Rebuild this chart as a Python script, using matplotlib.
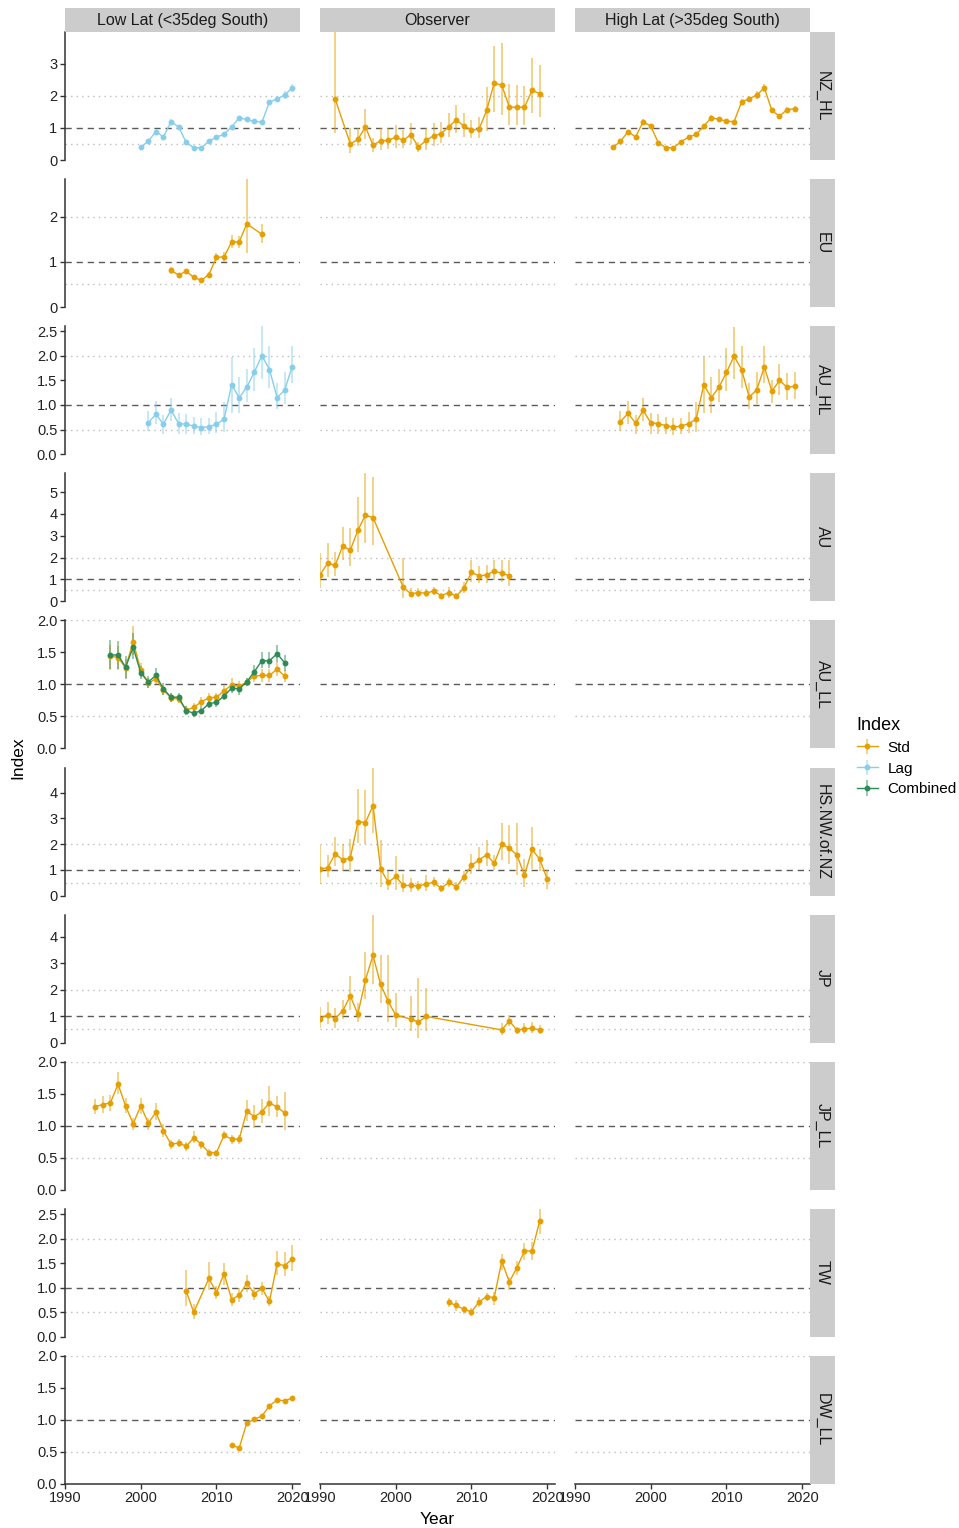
import numpy as np
import matplotlib
matplotlib.use("Agg")
import matplotlib.pyplot as plt

plt.rcParams['font.family'] = ['Liberation Sans', 'DejaVu Sans']

# ---------------- data ----------------
rows = ["NZ_HL", "EU", "AU_HL", "AU", "AU_LL", "HS.NW.of.NZ", "JP", "JP_LL", "TW", "DW_LL"]
cols = ["Low Lat (<35deg South)", "Observer", "High Lat (>35deg South)"]
index_names = ["Std", "Lag", "Combined"]
index_colors = {"Std": "#E69F00", "Lag": "#87CEEB", "Combined": "#2E8B57"}

# NZ_HL
nzhl_low_yr = [2000, 2001, 2002, 2003, 2004, 2005, 2006, 2007, 2008, 2009, 2010,
               2011, 2012, 2013, 2014, 2015, 2016, 2017, 2018, 2019, 2020]
nzhl_low_val = [0.39, 0.59, 0.88, 0.72, 1.19, 1.03, 0.55, 0.38, 0.38, 0.58, 0.71,
                0.80, 1.03, 1.31, 1.26, 1.20, 1.18, 1.80, 1.90, 2.02, 2.24]
nzhl_low_lo = [0.35, 0.54, 0.82, 0.67, 1.12, 0.97, 0.51, 0.35, 0.35, 0.54, 0.66,
               0.75, 0.97, 1.24, 1.20, 1.14, 1.12, 1.72, 1.80, 1.90, 2.12]
nzhl_low_hi = [0.43, 0.64, 0.94, 0.77, 1.26, 1.09, 0.59, 0.41, 0.41, 0.62, 0.76,
               0.85, 1.09, 1.38, 1.32, 1.26, 1.24, 1.88, 2.00, 2.14, 2.36]

nzhl_obs_yr = [1992, 1994, 1995, 1996, 1997, 1998, 1999, 2000, 2001, 2002, 2003, 2004, 2005, 2006,
               2007, 2008, 2009, 2010, 2011, 2012, 2013, 2014, 2015, 2016, 2017, 2018, 2019]
nzhl_obs_val = [1.90, 0.50, 0.64, 1.03, 0.46, 0.60, 0.61, 0.71, 0.61, 0.79, 0.40, 0.61, 0.75, 0.82,
                1.04, 1.24, 1.06, 0.93, 0.96, 1.54, 2.39, 2.33, 1.64, 1.64, 1.64, 2.17, 2.06]
nzhl_obs_lo = [0.83, 0.23, 0.42, 0.64, 0.26, 0.31, 0.35, 0.37, 0.38, 0.50, 0.26, 0.30, 0.42, 0.52,
               0.73, 0.83, 0.73, 0.68, 0.68, 0.91, 1.50, 1.40, 1.09, 1.09, 1.09, 1.47, 1.33]
nzhl_obs_hi = [3.98, 0.99, 0.99, 1.58, 0.67, 0.99, 0.99, 1.09, 0.92, 1.14, 0.57, 0.98, 1.14, 1.19,
               1.45, 1.70, 1.47, 1.25, 1.35, 2.28, 3.55, 3.63, 2.37, 2.34, 2.30, 3.16, 2.94]

nzhl_high_yr = [1995, 1996, 1997, 1998, 1999, 2000, 2001, 2002, 2003, 2004, 2005, 2006, 2007,
                2008, 2009, 2010, 2011, 2012, 2013, 2014, 2015, 2016, 2017, 2018, 2019]
nzhl_high_val = [0.39, 0.58, 0.88, 0.72, 1.19, 1.05, 0.54, 0.38, 0.38, 0.57, 0.71, 0.80, 1.05,
                 1.32, 1.26, 1.21, 1.19, 1.81, 1.90, 2.02, 2.24, 1.54, 1.36, 1.57, 1.59]
nzhl_high_lo = [0.35, 0.54, 0.82, 0.67, 1.12, 0.98, 0.50, 0.35, 0.35, 0.53, 0.66, 0.75, 0.98,
                1.25, 1.20, 1.15, 1.13, 1.73, 1.80, 1.90, 2.12, 1.46, 1.30, 1.48, 1.50]
nzhl_high_hi = [0.43, 0.63, 0.94, 0.77, 1.26, 1.11, 0.58, 0.41, 0.41, 0.61, 0.76, 0.85, 1.11,
                1.39, 1.32, 1.27, 1.25, 1.89, 2.00, 2.14, 2.36, 1.62, 1.42, 1.66, 1.68]

# EU
eu_low_yr = [2004, 2005, 2006, 2007, 2008, 2009, 2010, 2011, 2012, 2013, 2014, 2016]
eu_low_val = [0.81, 0.71, 0.79, 0.66, 0.59, 0.72, 1.10, 1.11, 1.44, 1.44, 1.84, 1.61]
eu_low_lo = [0.74, 0.66, 0.73, 0.62, 0.55, 0.67, 1.02, 1.00, 1.31, 1.30, 1.20, 1.41]
eu_low_hi = [0.89, 0.76, 0.85, 0.70, 0.63, 0.78, 1.20, 1.22, 1.59, 1.57, 2.83, 1.83]

# AU_HL
auhl_low_yr = [2001, 2002, 2003, 2004, 2005, 2006, 2007, 2008, 2009, 2010,
               2011, 2012, 2013, 2014, 2015, 2016, 2017, 2018, 2019, 2020]
auhl_low_val = [0.64, 0.81, 0.61, 0.90, 0.62, 0.61, 0.57, 0.54, 0.56, 0.61,
                0.71, 1.41, 1.15, 1.36, 1.67, 2.00, 1.72, 1.15, 1.30, 1.78]
auhl_low_lo = [0.47, 0.61, 0.42, 0.68, 0.42, 0.42, 0.42, 0.39, 0.42, 0.43,
               0.45, 0.83, 0.84, 1.06, 1.29, 1.53, 1.35, 0.92, 1.02, 1.44]
auhl_low_hi = [0.88, 1.08, 0.79, 1.15, 0.83, 0.81, 0.76, 0.74, 0.74, 0.85,
               1.07, 1.97, 1.56, 1.73, 2.15, 2.60, 2.19, 1.45, 1.67, 2.20]

auhl_high_yr = [1996, 1997, 1998, 1999, 2000, 2001, 2002, 2003, 2004, 2005, 2006, 2007,
                2008, 2009, 2010, 2011, 2012, 2013, 2014, 2015, 2016, 2017, 2018, 2019]
auhl_high_val = [0.66, 0.83, 0.63, 0.89, 0.64, 0.62, 0.58, 0.55, 0.57, 0.62, 0.71, 1.41,
                 1.15, 1.36, 1.66, 1.99, 1.72, 1.16, 1.31, 1.77, 1.28, 1.50, 1.36, 1.38]
auhl_high_lo = [0.47, 0.61, 0.42, 0.68, 0.42, 0.42, 0.42, 0.39, 0.42, 0.43, 0.45, 0.83,
                0.84, 1.06, 1.29, 1.53, 1.35, 0.92, 1.02, 1.44, 1.05, 1.20, 1.10, 1.13]
auhl_high_hi = [0.88, 1.08, 0.79, 1.15, 0.83, 0.81, 0.76, 0.74, 0.74, 0.85, 1.07, 1.97,
                1.56, 1.73, 2.15, 2.59, 2.19, 1.45, 1.67, 2.19, 1.50, 1.83, 1.65, 1.67]

# AU
au_obs_yr = [1990, 1991, 1992, 1993, 1994, 1995, 1996, 1997, 2001, 2002, 2003, 2004,
             2005, 2006, 2007, 2008, 2009, 2010, 2011, 2012, 2013, 2014, 2015]
au_obs_val = [1.21, 1.74, 1.65, 2.53, 2.34, 3.25, 3.95, 3.83, 0.64, 0.34, 0.40, 0.37,
              0.47, 0.26, 0.40, 0.24, 0.61, 1.33, 1.16, 1.21, 1.39, 1.28, 1.18]
au_obs_lo = [0.63, 1.13, 1.16, 1.89, 1.63, 2.27, 2.69, 2.58, 0.14, 0.18, 0.21, 0.21,
             0.30, 0.17, 0.17, 0.15, 0.37, 0.90, 0.85, 0.85, 0.98, 0.87, 0.72]
au_obs_hi = [2.20, 2.66, 2.27, 3.42, 3.34, 4.79, 5.86, 5.71, 2.00, 0.63, 0.60, 0.56,
             0.67, 0.40, 0.67, 0.40, 0.90, 1.89, 1.60, 1.66, 1.89, 1.89, 1.89]

# AU_LL
aull_yr = [1996, 1997, 1998, 1999, 2000, 2001, 2002, 2003, 2004, 2005, 2006, 2007,
           2008, 2009, 2010, 2011, 2012, 2013, 2014, 2015, 2016, 2017, 2018, 2019]
aull_std_val = [1.44, 1.42, 1.26, 1.67, 1.22, 1.02, 1.09, 0.91, 0.79, 0.77, 0.60, 0.64,
                0.73, 0.79, 0.80, 0.90, 0.99, 0.97, 1.04, 1.13, 1.14, 1.14, 1.24, 1.13]
aull_std_lo = [1.23, 1.23, 1.10, 1.46, 1.12, 0.95, 1.00, 0.84, 0.73, 0.71, 0.53, 0.58,
               0.66, 0.71, 0.73, 0.81, 0.90, 0.89, 0.98, 1.04, 1.04, 1.04, 1.13, 1.04]
aull_std_hi = [1.62, 1.60, 1.40, 1.92, 1.34, 1.10, 1.18, 0.99, 0.86, 0.84, 0.66, 0.71,
               0.81, 0.87, 0.87, 0.99, 1.10, 1.05, 1.10, 1.23, 1.24, 1.24, 1.35, 1.22]
aull_comb_val = [1.46, 1.46, 1.27, 1.58, 1.18, 1.04, 1.14, 0.93, 0.80, 0.80, 0.59, 0.55,
                 0.59, 0.70, 0.72, 0.82, 0.94, 0.93, 1.04, 1.20, 1.37, 1.37, 1.48, 1.34]
aull_comb_lo = [1.24, 1.24, 1.09, 1.39, 1.08, 0.94, 1.05, 0.84, 0.73, 0.73, 0.52, 0.49,
                0.53, 0.63, 0.64, 0.75, 0.86, 0.84, 0.97, 1.10, 1.25, 1.25, 1.35, 1.21]
aull_comb_hi = [1.70, 1.68, 1.45, 1.80, 1.28, 1.13, 1.26, 1.02, 0.87, 0.87, 0.67, 0.61,
                0.66, 0.76, 0.79, 0.88, 1.02, 1.00, 1.10, 1.30, 1.50, 1.50, 1.62, 1.46]

# HS.NW.of.NZ
hs_obs_yr = [1990, 1991, 1992, 1993, 1994, 1995, 1996, 1997, 1998, 1999, 2000, 2001, 2002, 2003, 2004, 2005,
             2006, 2007, 2008, 2009, 2010, 2011, 2012, 2013, 2014, 2015, 2016, 2017, 2018, 2019, 2020]
hs_obs_val = [1.03, 1.08, 1.62, 1.39, 1.46, 2.87, 2.84, 3.50, 1.04, 0.51, 0.74, 0.39, 0.39, 0.37, 0.45, 0.51,
              0.28, 0.51, 0.34, 0.72, 1.17, 1.39, 1.58, 1.25, 2.00, 1.84, 1.58, 0.78, 1.79, 1.42, 0.64]
hs_obs_lo = [0.45, 0.71, 1.13, 0.97, 0.91, 2.05, 2.00, 2.45, 0.34, 0.21, 0.21, 0.12, 0.12, 0.18, 0.18, 0.32,
             0.14, 0.32, 0.18, 0.51, 0.84, 1.00, 1.13, 1.00, 1.37, 1.24, 0.78, 0.32, 1.04, 0.97, 0.25]
hs_obs_hi = [1.95, 1.57, 2.26, 2.00, 2.18, 4.13, 4.11, 4.98, 2.16, 0.97, 1.54, 0.84, 0.68, 0.58, 0.78, 0.71,
             0.42, 0.68, 0.51, 0.97, 1.63, 1.87, 2.16, 1.57, 2.84, 2.75, 2.82, 1.43, 2.68, 1.82, 1.00]

# JP
jp_obs_yr = [1990, 1991, 1992, 1993, 1994, 1995, 1996, 1997, 1998, 1999, 2000,
             2002, 2003, 2004, 2014, 2015, 2016, 2017, 2018, 2019]
jp_obs_val = [0.91, 1.05, 0.91, 1.20, 1.76, 1.08, 2.37, 3.30, 2.20, 1.56, 1.04,
              0.89, 0.77, 0.99, 0.48, 0.82, 0.47, 0.52, 0.54, 0.48]
jp_obs_lo = [0.56, 0.72, 0.56, 0.91, 1.25, 0.78, 1.63, 2.20, 1.50, 0.78, 0.59,
             0.43, 0.18, 0.43, 0.28, 0.63, 0.34, 0.34, 0.38, 0.34]
jp_obs_hi = [1.35, 1.54, 1.29, 1.61, 2.52, 1.48, 3.43, 4.84, 3.32, 3.32, 1.86,
             1.77, 2.46, 2.08, 0.76, 1.06, 0.60, 0.73, 0.78, 0.67]

# JP_LL
jpll_low_yr = [1994, 1995, 1996, 1997, 1998, 1999, 2000, 2001, 2002, 2003, 2004, 2005, 2006,
               2007, 2008, 2009, 2010, 2011, 2012, 2013, 2014, 2015, 2016, 2017, 2018, 2019]
jpll_low_val = [1.30, 1.33, 1.36, 1.65, 1.31, 1.03, 1.31, 1.04, 1.21, 0.92, 0.71, 0.73, 0.68,
                0.81, 0.71, 0.58, 0.58, 0.85, 0.79, 0.79, 1.23, 1.14, 1.22, 1.36, 1.29, 1.20]
jpll_low_lo = [1.19, 1.20, 1.23, 1.49, 1.20, 0.94, 1.19, 0.93, 1.09, 0.82, 0.63, 0.66, 0.61,
               0.73, 0.64, 0.54, 0.54, 0.79, 0.71, 0.71, 1.08, 0.96, 1.04, 1.15, 1.13, 0.94]
jpll_low_hi = [1.42, 1.46, 1.48, 1.84, 1.44, 1.12, 1.44, 1.12, 1.35, 1.03, 0.78, 0.80, 0.75,
               0.91, 0.76, 0.63, 0.62, 0.92, 0.86, 0.86, 1.40, 1.33, 1.42, 1.62, 1.47, 1.52]

# TW
tw_low_yr = [2006, 2007, 2009, 2010, 2011, 2012, 2013, 2014, 2015, 2016, 2017, 2018, 2019, 2020]
tw_low_val = [0.93, 0.50, 1.19, 0.90, 1.29, 0.76, 0.85, 1.09, 0.88, 0.99, 0.72, 1.49, 1.45, 1.59]
tw_low_lo = [0.63, 0.37, 0.96, 0.78, 1.06, 0.63, 0.70, 0.92, 0.75, 0.85, 0.62, 1.27, 1.23, 1.35]
tw_low_hi = [1.37, 0.67, 1.53, 1.03, 1.50, 0.89, 1.00, 1.26, 1.02, 1.12, 0.83, 1.74, 1.72, 1.88]

tw_obs_yr = [2007, 2008, 2009, 2010, 2011, 2012, 2013, 2014, 2015, 2016, 2017, 2018, 2019]
tw_obs_val = [0.70, 0.64, 0.56, 0.51, 0.71, 0.82, 0.80, 1.54, 1.12, 1.41, 1.75, 1.75, 2.36]
tw_obs_lo = [0.61, 0.53, 0.47, 0.43, 0.61, 0.72, 0.65, 1.37, 0.96, 1.26, 1.57, 1.57, 2.10]
tw_obs_hi = [0.79, 0.75, 0.63, 0.59, 0.82, 0.90, 0.92, 1.69, 1.22, 1.55, 1.91, 1.93, 2.61]

# DW_LL
dwll_low_yr = [2012, 2013, 2014, 2015, 2016, 2017, 2018, 2019, 2020]
dwll_low_val = [0.61, 0.56, 0.95, 1.01, 1.06, 1.22, 1.31, 1.30, 1.34]
dwll_low_lo = [0.58, 0.53, 0.92, 0.98, 1.03, 1.19, 1.28, 1.27, 1.31]
dwll_low_hi = [0.64, 0.59, 0.98, 1.04, 1.09, 1.25, 1.34, 1.33, 1.37]

# (row, column, index, years, value, lower, upper)
series = [
    ("NZ_HL", cols[0], "Lag", nzhl_low_yr, nzhl_low_val, nzhl_low_lo, nzhl_low_hi),
    ("NZ_HL", cols[1], "Std", nzhl_obs_yr, nzhl_obs_val, nzhl_obs_lo, nzhl_obs_hi),
    ("NZ_HL", cols[2], "Std", nzhl_high_yr, nzhl_high_val, nzhl_high_lo, nzhl_high_hi),
    ("EU", cols[0], "Std", eu_low_yr, eu_low_val, eu_low_lo, eu_low_hi),
    ("AU_HL", cols[0], "Lag", auhl_low_yr, auhl_low_val, auhl_low_lo, auhl_low_hi),
    ("AU_HL", cols[2], "Std", auhl_high_yr, auhl_high_val, auhl_high_lo, auhl_high_hi),
    ("AU", cols[1], "Std", au_obs_yr, au_obs_val, au_obs_lo, au_obs_hi),
    ("AU_LL", cols[0], "Std", aull_yr, aull_std_val, aull_std_lo, aull_std_hi),
    ("AU_LL", cols[0], "Combined", aull_yr, aull_comb_val, aull_comb_lo, aull_comb_hi),
    ("HS.NW.of.NZ", cols[1], "Std", hs_obs_yr, hs_obs_val, hs_obs_lo, hs_obs_hi),
    ("JP", cols[1], "Std", jp_obs_yr, jp_obs_val, jp_obs_lo, jp_obs_hi),
    ("JP_LL", cols[0], "Std", jpll_low_yr, jpll_low_val, jpll_low_lo, jpll_low_hi),
    ("TW", cols[0], "Std", tw_low_yr, tw_low_val, tw_low_lo, tw_low_hi),
    ("TW", cols[1], "Std", tw_obs_yr, tw_obs_val, tw_obs_lo, tw_obs_hi),
    ("DW_LL", cols[0], "Std", dwll_low_yr, dwll_low_val, dwll_low_lo, dwll_low_hi),
]

x_ticks = [1990, 2000, 2010, 2020]
y_steps = [1, 1, 0.5, 1, 0.5, 1, 1, 0.5, 0.5, 0.5]

# ---------------- layout (pixels) ----------------
W, H = 959, 1528
col_left = [65, 320, 575]
panel_w = 235
panel_h = 128
row_top = [32 + i * 147.1 for i in range(len(rows))]


def frac(x0, y0, w, h):
    return [x0 / W, 1 - (y0 + h) / H, w / W, h / H]


fig = plt.figure(figsize=(W / 100, H / 100), dpi=100)
axis_col = '#333333'
strip_fill = '#cccccc'

handles = {}
for r, row in enumerate(rows):
    # shared y range per row (hlines at 2 count too)
    top = 2.0
    for s in series:
        if s[0] == row:
            top = max(top, max(s[6]))
    for c, col in enumerate(cols):
        ax = fig.add_axes(frac(col_left[c], row_top[r], panel_w, panel_h))
        ax.set_xlim(1990, 2021.03)
        ax.set_ylim(0, top)
        ax.axhline(0.5, color='#bdbdbd', ls=(0, (1, 3)), lw=1.0, zorder=1)
        ax.axhline(2.0, color='#bdbdbd', ls=(0, (1, 3)), lw=1.0, zorder=1)
        ax.axhline(1.0, color='#5a5a5a', ls=(0, (4.5, 3.5)), lw=1.0, zorder=1)

        for name in index_names:
            for s in series:
                if s[0] == row and s[1] == col and s[2] == name:
                    yr = np.array(s[3])
                    v = np.array(s[4])
                    lo = np.array(s[5])
                    hi = np.array(s[6])
                    colr = index_colors[name]
                    ecol = matplotlib.colors.to_rgba(colr, 0.6)
                    h = ax.errorbar(yr, v, yerr=[v - lo, hi - v], fmt='-o', color=colr,
                                    ecolor=ecol, elinewidth=1.1, capsize=0, lw=1.0,
                                    ms=3.2, zorder=3, clip_on=True)
                    handles.setdefault(name, h)

        for sp in ['top', 'right']:
            ax.spines[sp].set_visible(False)
        ax.spines['left'].set_visible(c == 0)
        ax.spines['bottom'].set_visible(r == len(rows) - 1)
        ax.spines['left'].set_color(axis_col)
        ax.spines['bottom'].set_color(axis_col)
        ax.spines['left'].set_linewidth(1.1)
        ax.spines['bottom'].set_linewidth(1.1)

        if c == 0:
            step = y_steps[r]
            ticks = np.arange(0, top + 1e-9, step)
            ax.set_yticks(ticks)
            if step < 1:
                ax.set_yticklabels(['%.1f' % t for t in ticks])
            else:
                ax.set_yticklabels(['%d' % t for t in ticks])
            ax.tick_params(axis='y', length=3.5, width=1.0, color=axis_col,
                           labelsize=10.5, labelcolor='#222222', pad=2)
        else:
            ax.set_yticks([])
        if r == len(rows) - 1:
            ax.set_xticks(x_ticks)
            ax.set_xticklabels([str(t) for t in x_ticks])
            ax.tick_params(axis='x', length=3.5, width=1.0, color=axis_col,
                           labelsize=10.5, labelcolor='#222222', pad=1.5)
        else:
            ax.set_xticks([])

        # top strips
        if r == 0:
            sa = fig.add_axes(frac(col_left[c], 8, panel_w, 24))
            sa.set_facecolor(strip_fill)
            sa.set_xticks([])
            sa.set_yticks([])
            for sp in sa.spines.values():
                sp.set_visible(False)
            sa.text(0.5, 0.48, col, ha='center', va='center', fontsize=11.5,
                    color='#1a1a1a', transform=sa.transAxes)

    # right strips
    ra = fig.add_axes(frac(810, row_top[r], 25, panel_h))
    ra.set_facecolor(strip_fill)
    ra.set_xticks([])
    ra.set_yticks([])
    for sp in ra.spines.values():
        sp.set_visible(False)
    ra.text(0.5, 0.5, row, ha='center', va='center', rotation=-90, fontsize=11.5,
            color='#1a1a1a', transform=ra.transAxes)

# axis titles
fig.text(437 / W, 1 - 1519 / H, "Year", ha='center', va='center', fontsize=12.5)
fig.text(18 / W, 1 - 758 / H, "Index", ha='center', va='center', rotation=90, fontsize=12.5)

# legend
leg = fig.legend([handles[n] for n in index_names], index_names, title="Index",
                 loc='upper left', bbox_to_anchor=(843 / W, 1 - 703 / H),
                 frameon=False, fontsize=11, title_fontsize=13, alignment='left',
                 handlelength=1.4, handletextpad=0.6, labelspacing=0.45)

fig.savefig("out.png", dpi=100)
